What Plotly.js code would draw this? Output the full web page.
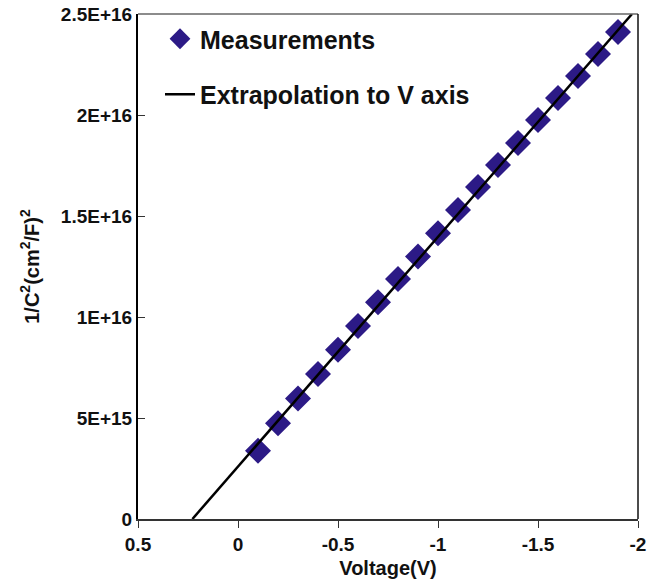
<!DOCTYPE html>
<html>
<head>
<meta charset="utf-8">
<script src="https://cdn.plot.ly/plotly-3.0.1.min.js"></script>
<style>
  html, body { margin: 0; padding: 0; background: #fff; }
  #chart { width: 656px; height: 581px; }
</style>
</head>
<body>
<div id="chart"></div>
<script>
// Measured data
const voltage = [-0.1, -0.2, -0.3, -0.4, -0.5, -0.6, -0.7, -0.8, -0.9, -1.0,
                 -1.1, -1.2, -1.3, -1.4, -1.5, -1.6, -1.7, -1.8, -1.9];
const invC2 = [3.38e15, 4.74e15, 5.96e15, 7.18e15, 8.38e15, 9.55e15, 1.073e16, 1.188e16, 1.299e16, 1.414e16,
               1.530e16, 1.644e16, 1.752e16, 1.861e16, 1.975e16, 2.084e16, 2.193e16, 2.302e16, 2.411e16];
// Extrapolation line end points
const fitV = [0.228, -1.97];
const fitY = [0, 2.5e16];
// Tick labels
const xTickVals = [0.5, 0, -0.5, -1, -1.5, -2];
const xTickText = ["0.5", "0", "-0.5", "-1", "-1.5", "-2"];
const yTickVals = [0, 5e15, 1e16, 1.5e16, 2e16, 2.5e16];
const yTickText = ["0", "5E+15", "1E+16", "1.5E+16", "2E+16", "2.5E+16"];

const FONT = "Liberation Sans, Arial, sans-serif";

const traces = [
  {
    x: voltage, y: invC2, type: "scatter", mode: "markers",
    name: "Measurements", legendgroup: "a",
    marker: { symbol: "diamond", size: 20, color: "#2c1a86" },
    cliponaxis: false
  },
  {
    x: fitV, y: fitY, type: "scatter", mode: "lines",
    name: "Extrapolation to V axis", legendgroup: "b",
    line: { color: "#000000", width: 2.5 }
  }
];

const layout = {
  width: 656, height: 581,
  margin: { l: 138, r: 18, t: 14, b: 62 },
  paper_bgcolor: "#ffffff", plot_bgcolor: "#ffffff",
  font: { family: FONT, size: 19, color: "#111", weight: "bold" },
  showlegend: true,
  legend: {
    x: 0.044, y: 0.996, xanchor: "left", yanchor: "top",
    bgcolor: "rgba(0,0,0,0)",
    font: { family: FONT, size: 25, color: "#111", weight: "bold" },
    traceorder: "grouped", tracegroupgap: 20
  },
  xaxis: {
    range: [0.5, -2], autorange: false,
    showgrid: false, zeroline: false,
    showline: true, linecolor: "#333", linewidth: 2,
    ticks: "outside", ticklen: 7, tickwidth: 1, tickcolor: "#333",
    tickvals: xTickVals, ticktext: xTickText,
    tickfont: { family: FONT, size: 19, color: "#111", weight: "bold" },
    title: { text: "Voltage(V)", font: { family: FONT, size: 20, color: "#111", weight: "bold" }, standoff: 7 }
  },
  yaxis: {
    range: [0, 2.5e16], autorange: false,
    showgrid: false, zeroline: false,
    showline: true, linecolor: "#000", linewidth: 2,
    ticks: "inside", ticklen: 7, tickwidth: 1, tickcolor: "#333",
    tickvals: yTickVals, ticktext: yTickText,
    tickfont: { family: FONT, size: 19, color: "#111", weight: "bold" },
    title: { text: "1/C<sup>2</sup>(cm<sup>2</sup>/F)<sup>2</sup>", font: { family: FONT, size: 20, color: "#111", weight: "bold" }, standoff: 16 }
  },
  shapes: [
    { type: "line", xref: "paper", yref: "paper", x0: 0, x1: 1, y0: 1, y1: 1, line: { color: "#666", width: 1.5 } },
    { type: "line", xref: "paper", yref: "paper", x0: 1, x1: 1, y0: 0, y1: 1, line: { color: "#111", width: 1.5 } }
  ]
};

Plotly.newPlot("chart", traces, layout, { displayModeBar: false, staticPlot: true });
</script>
</body>
</html>
